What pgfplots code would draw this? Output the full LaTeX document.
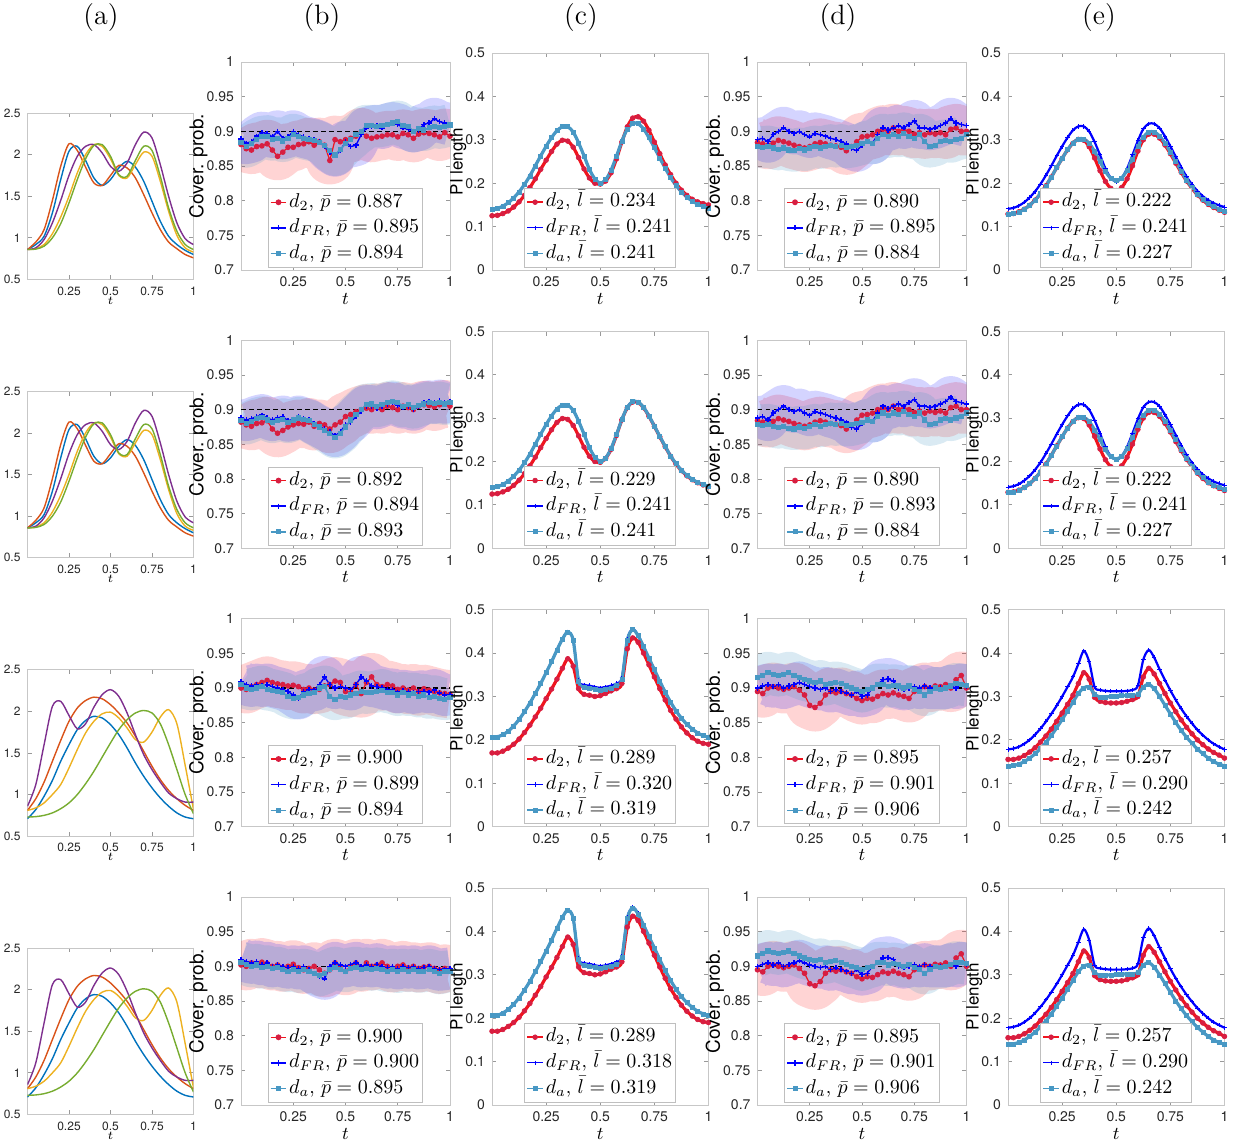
\documentclass[border=0pt]{standalone}
\usepackage{pgfplots}
\pgfplotsset{compat=1.18}
\usepackage{pgfplotstable}
\usepackage{fontspec}
\newfontfamily\hv{TeX Gyre Heros}
\definecolor{mA}{RGB}{0,114,189}
\definecolor{mB}{RGB}{217,83,25}
\definecolor{mC}{RGB}{237,177,32}
\definecolor{mD}{RGB}{126,47,142}
\definecolor{mE}{RGB}{119,172,48}
\definecolor{mred}{RGB}{240,20,30}
\definecolor{mredm}{RGB}{215,30,65}
\definecolor{mblue}{RGB}{0,0,255}
\definecolor{mteal}{RGB}{72,152,196}

\pgfplotsset{
 panel/.style={scale only axis, xmin=0, xmax=1, xtick={0.25,0.5,0.75,1}, scaled ticks=false,
  axis line style={draw=black!22}, major tick style={draw=black!40, line width=0.4pt},
  major tick length=2.2pt, tick align=inside, xtick pos=both, ytick pos=both,
  tick label style={font=\hv\fontsize{7}{8}\selectfont, text=black!85},
  /pgf/number format/assume math mode=true,
  xlabel={$t$}, xlabel style={font=\fontsize{9}{10}\selectfont, inner sep=1pt, yshift=1.6pt},
  legend style={at={(0.5,0.012)}, anchor=south, draw=black!25, fill=white,
    font=\fontsize{9.7}{10}\selectfont, inner sep=0.8pt, row sep=0.8pt,
    nodes={inner sep=1pt, text height=7.4pt, text depth=2.6pt}},
  legend cell align=left,
  legend image code/.code={\draw[mark repeat=2,mark phase=2,##1,line width=0.7pt] plot coordinates {(0cm,0cm)(0.14cm,0cm)(0.28cm,0cm)};},
 },
 fn/.style={panel, width=83pt, height=83.25pt, ymin=0.5, ymax=2.5, ytick={0.5,1,1.5,2,2.5},
  tick label style={font=\hv\fontsize{6}{7}\selectfont}, xlabel style={font=\fontsize{6.5}{7}\selectfont, inner sep=0pt, yshift=1.2pt}},
 cov/.style={panel, width=104.5pt, height=104pt, ymin=0.7, ymax=1, ytick={0.7,0.75,0.8,0.85,0.9,0.95,1},
  ylabel={Cover. prob.}, ylabel shift=-4pt, ylabel style={font=\hv\fontsize{9.5}{10}\selectfont, inner sep=0pt}},
 pil/.style={panel, width=108.25pt, height=108.5pt, ymin=0, ymax=0.5, ytick={0,0.1,0.2,0.3,0.4,0.5},
  ylabel={PI length}, ylabel shift=-4pt, ylabel style={font=\hv\fontsize{8.5}{9}\selectfont, inner sep=0pt}},
 fline/.style={line width=0.7pt, smooth, mark=none},
 bandR/.style={forget plot, draw=red, opacity=0.17, line width=24pt, line join=round, mark=none},
 bandF/.style={forget plot, draw=mblue, opacity=0.17, line width=21pt, line join=round, mark=none},
 bandA/.style={forget plot, draw=mteal, opacity=0.2, line width=21pt, line join=round, mark=none},
 serR/.style={mred, line width=0.6pt, mark=*, mark size=1.1pt, mark options={fill=mredm, draw=mredm}},
 serF/.style={mblue, line width=0.7pt, mark=+, mark size=1.3pt, mark options={solid}},
 serA/.style={mteal, line width=0.8pt, mark=square*, mark size=0.9pt, mark options={fill=mteal}},
 sR/.style={mred, smooth, line width=1.6pt, mark=*, mark size=1.2pt, mark options={fill=mredm, draw=mredm, line width=0.3pt}},
 sF/.style={mblue, smooth, line width=1.1pt, mark=+, mark size=1.1pt, mark options={solid, line width=0.5pt}},
 sA/.style={mteal, smooth, line width=1.6pt, mark=square*, mark size=1.0pt, mark options={fill=mteal, line width=0.3pt}},
}

% ---------- column (a) ----------
\pgfplotstableread{
t o b p y g
0    0.86 0.86 0.86 0.86 0.86
0.05 0.95 0.92 0.88 0.87 0.865
0.1  1.10 1.02 0.98 0.92 0.90
0.15 1.45 1.30 1.18 1.05 1.00
0.2  1.86 1.70 1.45 1.25 1.17
0.25 2.13 2.04 1.75 1.50 1.42
0.3  2.05 2.10 1.98 1.78 1.70
0.35 1.85 1.93 2.10 2.00 1.95
0.4  1.66 1.72 2.12 2.12 2.11
0.45 1.63 1.63 2.02 2.10 2.12
0.5  1.75 1.70 1.86 1.95 1.98
0.55 1.87 1.84 1.80 1.75 1.76
0.6  1.84 1.92 1.90 1.72 1.74
0.65 1.72 1.85 2.12 1.88 1.93
0.7  1.52 1.68 2.27 2.03 2.10
0.75 1.30 1.44 2.20 1.98 2.05
0.8  1.10 1.20 1.88 1.68 1.74
0.85 0.95 1.02 1.50 1.32 1.36
0.9  0.87 0.92 1.18 1.03 1.08
0.95 0.80 0.85 0.99 0.88 0.92
1    0.76 0.80 0.92 0.83 0.86
}\TAa
\pgfplotstableread{
t o b p y g
0    0.81 0.71 0.86 0.81 0.73
0.05 0.95 0.82 1.12 0.84 0.735
0.1  1.15 0.98 1.60 0.90 0.75
0.15 1.40 1.17 2.06 1.00 0.78
0.2  1.65 1.40 2.12 1.12 0.83
0.25 1.88 1.60 1.95 1.32 0.90
0.3  2.04 1.78 1.79 1.54 1.00
0.35 2.13 1.89 1.85 1.74 1.13
0.4  2.17 1.94 2.05 1.88 1.28
0.45 2.15 1.92 2.20 1.97 1.45
0.5  2.08 1.84 2.26 1.99 1.62
0.55 1.98 1.72 2.18 1.92 1.78
0.6  1.86 1.56 1.98 1.80 1.90
0.65 1.70 1.38 1.72 1.66 1.98
0.7  1.52 1.22 1.48 1.63 2.01
0.75 1.34 1.08 1.30 1.75 1.98
0.8  1.18 0.96 1.15 1.93 1.85
0.85 1.05 0.86 1.02 2.02 1.60
0.9  0.95 0.78 0.95 1.85 1.30
0.95 0.87 0.73 0.91 1.35 1.00
1    0.81 0.71 0.91 0.82 0.77
}\TAb

% ---------- column (b) ----------
\pgfplotstableread{
t r f a
0     0.881 0.889 0.884
0.025 0.875 0.883 0.878
0.05  0.873 0.885 0.882
0.075 0.878 0.893 0.888
0.1   0.879 0.898 0.892
0.125 0.882 0.897 0.893
0.15  0.873 0.892 0.888
0.175 0.864 0.900 0.890
0.2   0.870 0.890 0.886
0.225 0.877 0.892 0.890
0.25  0.877 0.900 0.895
0.275 0.881 0.895 0.892
0.3   0.882 0.892 0.890
0.325 0.885 0.890 0.888
0.35  0.880 0.888 0.887
0.375 0.885 0.885 0.884
0.4   0.880 0.878 0.880
0.425 0.858 0.870 0.872
0.45  0.888 0.865 0.866
0.475 0.885 0.872 0.874
0.5   0.888 0.885 0.882
0.525 0.890 0.878 0.888
0.55  0.893 0.880 0.895
0.575 0.899 0.895 0.900
0.6   0.893 0.905 0.908
0.625 0.890 0.907 0.908
0.65  0.892 0.908 0.907
0.675 0.893 0.905 0.908
0.7   0.895 0.910 0.910
0.725 0.895 0.912 0.912
0.75  0.892 0.910 0.914
0.775 0.897 0.905 0.908
0.8   0.895 0.903 0.907
0.825 0.890 0.900 0.900
0.85  0.896 0.902 0.904
0.875 0.898 0.910 0.902
0.9   0.897 0.912 0.905
0.925 0.895 0.918 0.907
0.95  0.892 0.914 0.905
0.975 0.898 0.912 0.907
1     0.893 0.910 0.909
}\TBa
\pgfplotstableread{
t r f a
0     0.882 0.888 0.884
0.025 0.878 0.885 0.880
0.05  0.876 0.887 0.883
0.075 0.880 0.890 0.887
0.1   0.881 0.892 0.889
0.125 0.884 0.888 0.885
0.15  0.872 0.885 0.882
0.175 0.866 0.888 0.884
0.2   0.870 0.890 0.886
0.225 0.875 0.884 0.882
0.25  0.878 0.886 0.885
0.275 0.880 0.890 0.888
0.3   0.879 0.887 0.886
0.325 0.882 0.885 0.884
0.35  0.876 0.880 0.879
0.375 0.880 0.876 0.875
0.4   0.878 0.872 0.870
0.425 0.872 0.868 0.865
0.45  0.878 0.862 0.860
0.475 0.882 0.868 0.866
0.5   0.890 0.878 0.875
0.525 0.893 0.882 0.885
0.55  0.897 0.890 0.893
0.575 0.900 0.898 0.900
0.6   0.902 0.905 0.907
0.625 0.900 0.905 0.908
0.65  0.903 0.902 0.905
0.675 0.900 0.905 0.907
0.7   0.905 0.908 0.910
0.725 0.903 0.910 0.912
0.75  0.900 0.906 0.910
0.775 0.905 0.903 0.905
0.8   0.903 0.905 0.907
0.825 0.900 0.900 0.903
0.85  0.905 0.905 0.906
0.875 0.907 0.910 0.908
0.9   0.906 0.912 0.910
0.925 0.904 0.910 0.909
0.95  0.907 0.913 0.910
0.975 0.908 0.910 0.908
1     0.905 0.912 0.910
}\TBb
\pgfplotstableread{
t r f a
0     0.900 0.909 0.905
0.025 0.898 0.905 0.900
0.05  0.902 0.903 0.898
0.075 0.905 0.905 0.900
0.1   0.908 0.903 0.902
0.125 0.911 0.905 0.898
0.15  0.908 0.902 0.897
0.175 0.906 0.900 0.895
0.2   0.905 0.898 0.893
0.225 0.903 0.895 0.888
0.25  0.904 0.890 0.885
0.275 0.902 0.885 0.886
0.3   0.898 0.895 0.890
0.325 0.900 0.898 0.892
0.35  0.897 0.897 0.894
0.375 0.898 0.905 0.900
0.4   0.903 0.916 0.902
0.425 0.905 0.905 0.888
0.45  0.910 0.900 0.884
0.475 0.908 0.902 0.888
0.5   0.895 0.900 0.886
0.525 0.893 0.898 0.890
0.55  0.905 0.905 0.892
0.575 0.892 0.916 0.895
0.6   0.908 0.910 0.893
0.625 0.916 0.903 0.894
0.65  0.905 0.902 0.895
0.675 0.902 0.900 0.897
0.7   0.905 0.898 0.894
0.725 0.903 0.898 0.893
0.75  0.898 0.894 0.890
0.775 0.900 0.896 0.893
0.8   0.897 0.895 0.890
0.825 0.900 0.893 0.892
0.85  0.895 0.895 0.888
0.875 0.899 0.895 0.890
0.9   0.897 0.894 0.886
0.925 0.895 0.897 0.888
0.95  0.893 0.893 0.885
0.975 0.892 0.890 0.884
1     0.891 0.891 0.886
}\TBc
\pgfplotstableread{
t r f a
0     0.902 0.910 0.905
0.025 0.900 0.907 0.903
0.05  0.905 0.905 0.900
0.075 0.903 0.907 0.902
0.1   0.906 0.903 0.898
0.125 0.904 0.905 0.900
0.15  0.900 0.900 0.897
0.175 0.902 0.902 0.898
0.2   0.898 0.900 0.895
0.225 0.900 0.898 0.893
0.25  0.903 0.900 0.895
0.275 0.898 0.897 0.892
0.3   0.895 0.900 0.895
0.325 0.897 0.895 0.893
0.35  0.900 0.890 0.890
0.375 0.895 0.885 0.887
0.4   0.890 0.882 0.890
0.425 0.895 0.900 0.895
0.45  0.905 0.905 0.898
0.475 0.898 0.902 0.895
0.5   0.893 0.900 0.893
0.525 0.900 0.903 0.897
0.55  0.905 0.905 0.898
0.575 0.898 0.900 0.895
0.6   0.905 0.902 0.897
0.625 0.900 0.900 0.895
0.65  0.902 0.903 0.897
0.675 0.905 0.900 0.895
0.7   0.900 0.898 0.893
0.725 0.897 0.900 0.895
0.75  0.900 0.897 0.892
0.775 0.902 0.900 0.895
0.8   0.898 0.898 0.893
0.825 0.900 0.900 0.895
0.85  0.897 0.897 0.892
0.875 0.899 0.898 0.893
0.9   0.900 0.900 0.895
0.925 0.897 0.897 0.893
0.95  0.895 0.895 0.890
0.975 0.897 0.896 0.892
1     0.895 0.897 0.893
}\TBd

% ---------- column (c) ----------
\pgfplotstableread{
t r f a
0 0.125 0.140 0.140
0.025 0.126 0.142 0.142
0.05 0.130 0.147 0.147
0.075 0.136 0.155 0.155
0.1 0.145 0.166 0.166
0.125 0.157 0.180 0.180
0.15 0.172 0.197 0.197
0.175 0.190 0.217 0.217
0.2 0.210 0.240 0.240
0.225 0.232 0.263 0.263
0.25 0.253 0.285 0.285
0.275 0.273 0.305 0.305
0.3 0.290 0.321 0.321
0.325 0.299 0.330 0.330
0.35 0.297 0.330 0.330
0.375 0.283 0.318 0.318
0.4 0.259 0.293 0.293
0.425 0.233 0.263 0.263
0.45 0.212 0.232 0.232
0.475 0.200 0.210 0.210
0.5 0.198 0.200 0.200
0.525 0.205 0.208 0.208
0.55 0.224 0.230 0.230
0.575 0.256 0.262 0.262
0.6 0.295 0.297 0.297
0.625 0.330 0.325 0.325
0.65 0.350 0.338 0.338
0.675 0.353 0.337 0.337
0.7 0.343 0.325 0.325
0.725 0.322 0.305 0.305
0.75 0.295 0.282 0.282
0.775 0.268 0.258 0.258
0.8 0.242 0.235 0.235
0.825 0.220 0.213 0.213
0.85 0.200 0.195 0.195
0.875 0.184 0.180 0.180
0.9 0.172 0.168 0.168
0.925 0.163 0.159 0.159
0.95 0.157 0.152 0.152
0.975 0.153 0.147 0.147
1 0.150 0.143 0.143
}\TCa
\pgfplotstableread{
t r f a
0 0.125 0.140 0.140
0.025 0.126 0.142 0.142
0.05 0.130 0.147 0.147
0.075 0.136 0.155 0.155
0.1 0.145 0.166 0.166
0.125 0.157 0.180 0.180
0.15 0.172 0.197 0.197
0.175 0.190 0.217 0.217
0.2 0.210 0.240 0.240
0.225 0.232 0.263 0.263
0.25 0.253 0.285 0.285
0.275 0.273 0.305 0.305
0.3 0.290 0.321 0.321
0.325 0.299 0.330 0.330
0.35 0.297 0.330 0.330
0.375 0.283 0.318 0.318
0.4 0.259 0.293 0.293
0.425 0.233 0.263 0.263
0.45 0.212 0.232 0.232
0.475 0.200 0.210 0.210
0.5 0.198 0.200 0.200
0.525 0.207 0.208 0.208
0.55 0.228 0.230 0.230
0.575 0.260 0.262 0.262
0.6 0.296 0.297 0.297
0.625 0.324 0.325 0.325
0.65 0.337 0.338 0.338
0.675 0.336 0.337 0.337
0.7 0.324 0.325 0.325
0.725 0.304 0.305 0.305
0.75 0.281 0.282 0.282
0.775 0.257 0.258 0.258
0.8 0.234 0.235 0.235
0.825 0.212 0.213 0.213
0.85 0.194 0.195 0.195
0.875 0.179 0.180 0.180
0.9 0.167 0.168 0.168
0.925 0.158 0.159 0.159
0.95 0.151 0.152 0.152
0.975 0.146 0.147 0.147
1 0.142 0.143 0.143
}\TCb
\pgfplotstableread{
t r f a
0 0.170 0.206 0.206
0.025 0.170 0.207 0.207
0.05 0.174 0.212 0.212
0.075 0.181 0.220 0.220
0.1 0.190 0.232 0.232
0.125 0.202 0.247 0.247
0.15 0.217 0.265 0.265
0.175 0.234 0.285 0.285
0.2 0.253 0.307 0.307
0.225 0.273 0.330 0.330
0.25 0.295 0.355 0.355
0.275 0.317 0.380 0.380
0.3 0.340 0.407 0.407
0.325 0.365 0.432 0.432
0.35 0.387 0.449 0.449
0.375 0.370 0.430 0.430
0.4 0.318 0.338 0.335
0.425 0.305 0.327 0.322
0.45 0.303 0.325 0.320
0.475 0.300 0.322 0.317
0.5 0.302 0.320 0.315
0.525 0.307 0.322 0.317
0.55 0.313 0.325 0.320
0.575 0.318 0.330 0.325
0.6 0.330 0.343 0.340
0.625 0.410 0.432 0.430
0.65 0.435 0.455 0.454
0.675 0.425 0.441 0.440
0.7 0.400 0.415 0.415
0.725 0.373 0.388 0.388
0.75 0.345 0.362 0.362
0.775 0.318 0.335 0.335
0.8 0.292 0.310 0.310
0.825 0.268 0.287 0.287
0.85 0.248 0.267 0.267
0.875 0.230 0.250 0.250
0.9 0.216 0.236 0.236
0.925 0.205 0.225 0.225
0.95 0.197 0.216 0.216
0.975 0.192 0.210 0.210
1 0.190 0.206 0.206
}\TCc

% ---------- column (d) ----------
\pgfplotstableread{
t r f a
0     0.884 0.888 0.878
0.025 0.882 0.890 0.877
0.05  0.880 0.885 0.878
0.075 0.883 0.895 0.876
0.1   0.887 0.900 0.874
0.125 0.885 0.905 0.876
0.15  0.883 0.900 0.873
0.175 0.880 0.897 0.872
0.2   0.878 0.900 0.875
0.225 0.876 0.895 0.873
0.25  0.878 0.892 0.876
0.275 0.882 0.897 0.878
0.3   0.884 0.895 0.876
0.325 0.882 0.893 0.878
0.35  0.880 0.890 0.880
0.375 0.879 0.888 0.878
0.4   0.877 0.885 0.880
0.425 0.872 0.882 0.877
0.45  0.878 0.875 0.878
0.475 0.885 0.872 0.880
0.5   0.892 0.880 0.882
0.525 0.893 0.885 0.885
0.55  0.895 0.883 0.883
0.575 0.900 0.895 0.890
0.6   0.903 0.905 0.895
0.625 0.900 0.902 0.892
0.65  0.905 0.905 0.895
0.675 0.900 0.908 0.893
0.7   0.902 0.905 0.897
0.725 0.900 0.910 0.893
0.75  0.896 0.915 0.890
0.775 0.898 0.905 0.895
0.8   0.895 0.905 0.885
0.825 0.898 0.903 0.878
0.85  0.896 0.905 0.880
0.875 0.898 0.908 0.885
0.9   0.895 0.912 0.887
0.925 0.903 0.918 0.885
0.95  0.905 0.912 0.888
0.975 0.900 0.910 0.890
1     0.900 0.908 0.895
}\TDa
\pgfplotstableread{
t r f a
0     0.895 0.900 0.915
0.025 0.892 0.903 0.918
0.05  0.900 0.905 0.922
0.075 0.902 0.902 0.920
0.1   0.900 0.905 0.918
0.125 0.898 0.900 0.920
0.15  0.900 0.903 0.922
0.175 0.902 0.905 0.918
0.2   0.897 0.908 0.915
0.225 0.890 0.905 0.912
0.25  0.875 0.902 0.910
0.275 0.872 0.900 0.908
0.3   0.878 0.898 0.910
0.325 0.890 0.900 0.905
0.35  0.895 0.895 0.907
0.375 0.893 0.898 0.908
0.4   0.895 0.895 0.906
0.425 0.892 0.893 0.903
0.45  0.890 0.890 0.900
0.475 0.885 0.895 0.898
0.5   0.882 0.888 0.895
0.525 0.885 0.890 0.898
0.55  0.884 0.900 0.900
0.575 0.888 0.905 0.905
0.6   0.892 0.912 0.905
0.625 0.890 0.913 0.902
0.65  0.893 0.910 0.904
0.675 0.890 0.900 0.903
0.7   0.888 0.898 0.900
0.725 0.885 0.900 0.903
0.75  0.895 0.902 0.898
0.775 0.898 0.900 0.895
0.8   0.902 0.903 0.890
0.825 0.900 0.900 0.895
0.85  0.903 0.900 0.900
0.875 0.902 0.900 0.898
0.9   0.905 0.900 0.900
0.925 0.900 0.903 0.903
0.95  0.912 0.900 0.906
0.975 0.918 0.905 0.905
1     0.900 0.903 0.904
}\TDc

% ---------- column (e) ----------
\pgfplotstableread{
t r f a
0 0.129 0.141 0.129
0.025 0.130 0.143 0.130
0.05 0.134 0.148 0.134
0.075 0.140 0.156 0.140
0.1 0.149 0.167 0.149
0.125 0.161 0.181 0.161
0.15 0.176 0.198 0.176
0.175 0.194 0.218 0.194
0.2 0.214 0.240 0.214
0.225 0.236 0.263 0.236
0.25 0.257 0.285 0.257
0.275 0.277 0.305 0.277
0.3 0.292 0.322 0.293
0.325 0.301 0.331 0.302
0.35 0.299 0.331 0.302
0.375 0.284 0.319 0.292
0.4 0.258 0.295 0.273
0.425 0.229 0.265 0.250
0.45 0.204 0.234 0.227
0.475 0.188 0.212 0.211
0.5 0.183 0.204 0.206
0.525 0.190 0.212 0.212
0.55 0.210 0.234 0.230
0.575 0.240 0.265 0.256
0.6 0.274 0.298 0.284
0.625 0.300 0.325 0.306
0.65 0.313 0.337 0.318
0.675 0.313 0.337 0.318
0.7 0.304 0.327 0.309
0.725 0.288 0.308 0.292
0.75 0.268 0.285 0.272
0.775 0.246 0.261 0.250
0.8 0.225 0.237 0.228
0.825 0.205 0.215 0.207
0.85 0.188 0.197 0.190
0.875 0.173 0.182 0.175
0.9 0.161 0.170 0.163
0.925 0.151 0.161 0.153
0.95 0.144 0.154 0.146
0.975 0.138 0.149 0.140
1 0.133 0.145 0.135
}\TEa
\pgfplotstableread{
t r f a
0 0.155 0.178 0.140
0.025 0.155 0.180 0.141
0.05 0.158 0.184 0.144
0.075 0.164 0.191 0.150
0.1 0.172 0.200 0.158
0.125 0.182 0.212 0.168
0.15 0.195 0.226 0.180
0.175 0.209 0.242 0.194
0.2 0.225 0.260 0.210
0.225 0.243 0.279 0.228
0.25 0.262 0.300 0.247
0.275 0.282 0.322 0.267
0.3 0.303 0.345 0.287
0.325 0.330 0.375 0.307
0.35 0.355 0.405 0.320
0.375 0.340 0.380 0.322
0.4 0.298 0.322 0.305
0.425 0.289 0.315 0.299
0.45 0.286 0.313 0.299
0.475 0.285 0.312 0.300
0.5 0.285 0.312 0.301
0.525 0.286 0.312 0.302
0.55 0.289 0.313 0.302
0.575 0.293 0.315 0.302
0.6 0.300 0.325 0.305
0.625 0.345 0.385 0.322
0.65 0.365 0.407 0.328
0.675 0.352 0.390 0.318
0.7 0.330 0.363 0.300
0.725 0.307 0.338 0.280
0.75 0.285 0.314 0.260
0.775 0.265 0.292 0.240
0.8 0.246 0.272 0.222
0.825 0.229 0.254 0.206
0.85 0.214 0.238 0.192
0.875 0.200 0.223 0.179
0.9 0.189 0.211 0.168
0.925 0.179 0.200 0.158
0.95 0.171 0.191 0.150
0.975 0.165 0.184 0.144
1 0.158 0.178 0.140
}\TEc

\newcommand{\fnpanel}[3]{%
\begin{axis}[fn, at={(#1,#2)}]
\addplot[fline, mA] table[x=t,y=b]{#3};
\addplot[fline, mB] table[x=t,y=o]{#3};
\addplot[fline, mC] table[x=t,y=y]{#3};
\addplot[fline, mD] table[x=t,y=p]{#3};
\addplot[fline, mE] table[x=t,y=g]{#3};
\end{axis}}

\newcommand{\covpanel}[6]{%
\begin{axis}[cov, at={(#1,#2)}]
\addplot[bandR] table[x=t,y=r]{#3};
\addplot[bandF] table[x=t,y=f]{#3};
\addplot[bandA] table[x=t,y=a]{#3};
\addplot[black, forget plot, mark=none, line width=0.8pt, dash pattern=on 2.4pt off 1.6pt] coordinates {(0,0.9) (1,0.9)};
\addplot[serR] table[x=t,y=r]{#3}; \addlegendentry{$d_2$, $\bar{p}=#4$}
\addplot[serF] table[x=t,y=f]{#3}; \addlegendentry{$d_{FR}$, $\bar{p}=#5$}
\addplot[serA] table[x=t,y=a]{#3}; \addlegendentry{$d_a$, $\bar{p}=#6$}
\end{axis}}

\newcommand{\pilpanel}[6]{%
\begin{axis}[pil, at={(#1,#2)}]
\addplot[sR] table[x=t,y=r]{#3}; \addlegendentry{$d_2$, $\bar{l}=#4$}
\addplot[sF] table[x=t,y=f]{#3}; \addlegendentry{$d_{FR}$, $\bar{l}=#5$}
\addplot[sA] table[x=t,y=a]{#3}; \addlegendentry{$d_a$, $\bar{l}=#6$}
\end{axis}}

\begin{document}
\begin{tikzpicture}
\path[use as bounding box] (0,0) rectangle (619.5pt,571pt);
\node[font=\fontsize{14}{16}\selectfont] at (50.5pt,562pt) {(a)};
\node[font=\fontsize{14}{16}\selectfont] at (161pt,562pt) {(b)};
\node[font=\fontsize{14}{16}\selectfont] at (290.5pt,562pt) {(c)};
\node[font=\fontsize{14}{16}\selectfont] at (419pt,562pt) {(d)};
\node[font=\fontsize{14}{16}\selectfont] at (549.5pt,562pt) {(e)};

% row 1
\fnpanel{13.75pt}{431.25pt}{\TAa}
\covpanel{120.5pt}{436pt}{\TBa}{0.887}{0.895}{0.894}
\pilpanel{246pt}{436pt}{\TCa}{0.234}{0.241}{0.241}
\covpanel{378.75pt}{436pt}{\TDa}{0.890}{0.895}{0.884}
\pilpanel{504pt}{436pt}{\TEa}{0.222}{0.241}{0.227}
% row 2
\fnpanel{13.75pt}{292.1pt}{\TAa}
\covpanel{120.5pt}{296.85pt}{\TBb}{0.892}{0.894}{0.893}
\pilpanel{246pt}{296.85pt}{\TCb}{0.229}{0.241}{0.241}
\covpanel{378.75pt}{296.85pt}{\TDa}{0.890}{0.893}{0.884}
\pilpanel{504pt}{296.85pt}{\TEa}{0.222}{0.241}{0.227}
% row 3
\fnpanel{13.75pt}{152.9pt}{\TAb}
\covpanel{120.5pt}{157.65pt}{\TBc}{0.900}{0.899}{0.894}
\pilpanel{246pt}{157.65pt}{\TCc}{0.289}{0.320}{0.319}
\covpanel{378.75pt}{157.65pt}{\TDc}{0.895}{0.901}{0.906}
\pilpanel{504pt}{157.65pt}{\TEc}{0.257}{0.290}{0.242}
% row 4
\fnpanel{13.75pt}{13.75pt}{\TAb}
\covpanel{120.5pt}{18.5pt}{\TBd}{0.900}{0.900}{0.895}
\pilpanel{246pt}{18.5pt}{\TCc}{0.289}{0.318}{0.319}
\covpanel{378.75pt}{18.5pt}{\TDc}{0.895}{0.901}{0.906}
\pilpanel{504pt}{18.5pt}{\TEc}{0.257}{0.290}{0.242}
\end{tikzpicture}
\end{document}
